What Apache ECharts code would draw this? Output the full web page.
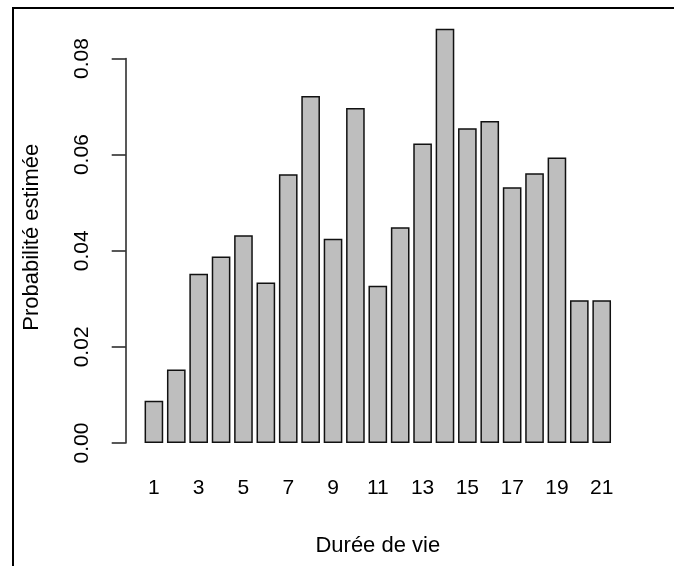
<!DOCTYPE html>
<html>
<head>
<meta charset="utf-8">
<script src="https://cdn.jsdelivr.net/npm/echarts@6/dist/echarts.min.js"></script>
<style>
  html, body { margin: 0; padding: 0; background: #fff; }
  #frame { position: absolute; left: 12px; top: 7px; width: 700px; height: 600px;
           border-top: 2px solid #000; border-left: 2px solid #000; }
  #chart { position: absolute; left: 0; top: 0; width: 674px; height: 566px; }
</style>
</head>
<body>
<div id="frame"></div>
<div id="chart"></div>
<script>
const categories = ['1','2','3','4','5','6','7','8','9','10','11','12','13','14','15','16','17','18','19','20','21'];
const probabilities = [0.0088, 0.0153, 0.0352, 0.0388, 0.0432, 0.0334, 0.0559, 0.0722, 0.0425, 0.0697,
                       0.0327, 0.0449, 0.0623, 0.0862, 0.0655, 0.0670, 0.0532, 0.0561, 0.0594, 0.0297, 0.0297];
const yTicks = [0, 0.02, 0.04, 0.06, 0.08];
const xTitle = 'Durée de vie';
const yTitle = 'Probabilité estimée';

const FONT = "'Liberation Sans', Arial, sans-serif";
const chart = echarts.init(document.getElementById('chart'), null, { renderer: 'canvas' });
chart.setOption({
  animation: false,
  grid: { left: 142.7, right: 61.1, top: 58.5, bottom: 123, containLabel: false },
  xAxis: {
    type: 'category',
    data: categories,
    axisLine: { show: false },
    axisTick: { show: false },
    axisLabel: { interval: 1, margin: 35, fontSize: 21, color: '#000', fontFamily: FONT },
    name: xTitle,
    nameLocation: 'middle',
    nameGap: 92,
    nameTextStyle: { fontSize: 22, color: '#000', fontFamily: FONT }
  },
  yAxis: {
    type: 'value',
    min: yTicks[0],
    max: yTicks[yTicks.length - 1],
    interval: 0.02,
    offset: 17,
    splitLine: { show: false },
    axisLine: { show: true, lineStyle: { color: '#222', width: 1.5 } },
    axisTick: { show: true, length: 14, lineStyle: { color: '#222', width: 1.5 } },
    axisLabel: { rotate: 90, margin: 33, fontSize: 21, color: '#000', fontFamily: FONT,
                 formatter: v => v.toFixed(2) },
    name: yTitle,
    nameLocation: 'middle',
    nameGap: 83,
    nameTextStyle: { fontSize: 22, color: '#000', fontFamily: FONT, padding: [0, 0, 0, 27] }
  },
  series: [{
    type: 'bar',
    data: probabilities,
    barWidth: '83.3%',
    clip: false,
    itemStyle: { color: '#BEBEBE', borderColor: '#111', borderWidth: 1.5 }
  }]
});
</script>
</body>
</html>
